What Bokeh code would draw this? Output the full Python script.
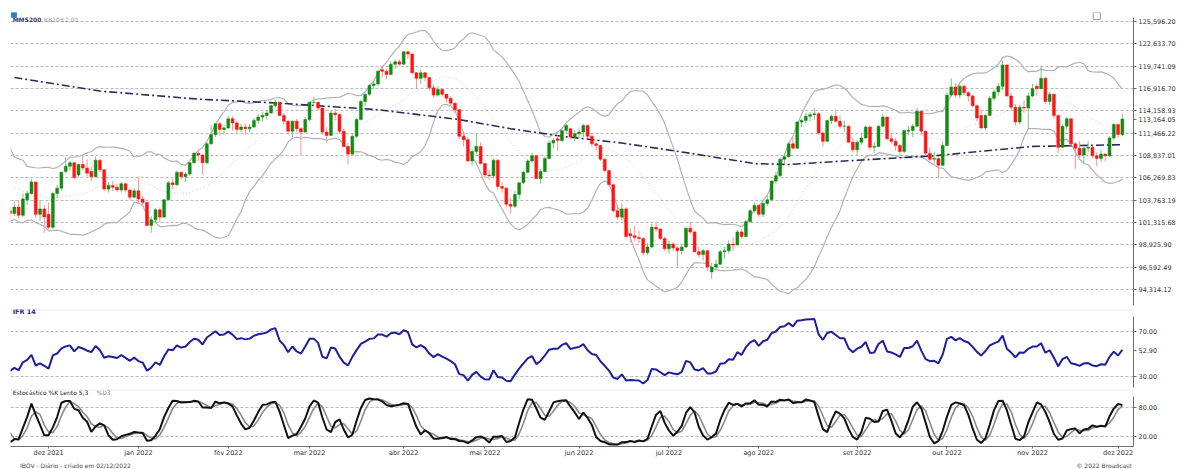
import numpy as np
import pandas as pd
from bokeh.plotting import figure
from bokeh.layouts import column
from bokeh.models import (Range1d, FixedTicker, NumeralTickFormatter, Label, Span,
                          ColumnDataSource)
from bokeh.core.properties import value
from bokeh.embed import file_html
from bokeh.resources import INLINE

# ---------------- data (IBOV daily, in thousands of points) ----------------
# first 32 rows are warm-up days (Oct 1 - Nov 18 2021) used only for the indicators
WARMUP = 32
opens = [110.9,112.9,110.4,110.5,110.6,112.8,112.8,112.2,113.5,114.6,114.6,114.4,110.8,110.8,107.7,106.3,108.7,106.4,105.7,104.8,103.5,105.6,105.6,103.4,104.8,104.8,105.5,106.0,107.6,106.3,102.9,102.6,
102.3,103.0,102.1,103.8,104.5,105.8,102.2,102.8,102.2,100.8,104.5,105.1,107.0,107.6,108.0,106.6,107.8,107.4,107.0,106.4,108.3,107.2,105.0,105.4,105.2,104.9,105.6,104.9,104.1,
104.8,103.9,103.5,101.0,101.6,102.7,101.9,103.8,105.7,105.5,106.9,106.4,106.7,108.0,109.1,108.9,108.0,110.2,111.3,112.6,111.9,
112.1,113.2,112.7,111.9,112.2,112.0,112.2,113.0,113.4,113.6,113.9,114.8,115.2,113.6,112.9,111.7,112.9,112.0,111.6,
113.1,115.2,115.2,114.5,111.6,111.2,113.9,113.7,111.7,109.9,109.0,111.1,113.1,115.3,116.2,117.3,117.5,119.3,119.1,118.7,120.0,120.3,
120.0,121.6,121.3,118.9,118.2,118.9,118.3,117.0,116.1,116.8,116.2,115.7,115.1,114.3,111.1,110.7,108.2,109.3,109.9,
107.9,106.6,106.5,108.3,105.3,105.1,103.3,103.1,104.4,105.7,106.9,108.2,108.8,106.2,107.0,108.5,110.3,110.8,110.6,111.8,112.0,111.0,
111.4,111.6,112.4,111.1,110.2,110.0,108.4,107.1,105.5,102.6,101.9,102.8,100.1,99.9,99.7,99.6,98.1,98.7,100.8,100.6,99.6,
98.5,99.0,98.6,98.3,98.7,100.7,100.3,98.2,97.9,98.3,96.1,96.6,96.9,98.2,98.3,99.0,98.9,100.3,99.8,101.4,102.6,
103.2,102.2,103.4,103.8,105.9,106.5,108.4,108.7,110.2,109.7,112.8,113.0,113.5,113.7,113.8,111.5,110.5,113.0,113.5,112.9,112.3,112.3,110.4,
109.5,110.4,110.9,112.2,109.8,109.9,112.3,113.4,110.8,110.5,110.0,109.3,111.7,111.8,112.3,114.1,111.7,109.1,108.4,108.5,107.7,
110.0,116.1,117.1,116.1,117.2,116.4,116.0,114.8,113.6,112.1,113.6,115.7,116.5,117.2,119.9,116.0,114.6,112.8,114.6,114.5,
116.0,117.2,116.9,118.2,115.3,116.2,113.6,109.8,112.3,113.2,110.2,109.7,108.9,109.7,109.8,108.8,108.5,109.0,108.8,110.9,
112.5,111.3]
highs = [113.3,112.9,111.0,110.6,113.0,113.5,113.0,113.6,114.9,115.0,114.8,114.5,111.6,110.9,108.4,108.9,109.0,106.9,106.3,105.2,105.8,106.4,105.7,105.1,105.5,105.9,106.4,107.8,107.9,106.4,103.3,103.0,
103.6,103.8,104.5,104.8,106.1,105.8,103.8,103.2,103.5,104.7,105.5,107.0,108.6,108.2,108.1,107.9,108.9,108.4,107.5,108.7,108.4,107.2,105.8,105.9,105.6,105.8,105.7,105.0,105.1,
106.4,104.3,103.6,102.0,102.9,103.0,103.9,105.9,106.2,107.1,107.0,106.9,108.1,109.3,109.5,109.0,110.4,112.4,112.7,112.8,112.4,
113.5,113.5,112.9,112.6,112.6,112.6,113.3,113.8,114.0,114.2,114.9,115.5,115.3,113.9,113.0,113.0,113.2,112.2,113.4,
115.3,115.9,115.3,114.6,112.2,114.2,114.4,113.8,112.0,110.3,111.5,113.3,115.5,116.3,117.5,118.0,119.3,119.8,119.3,120.4,120.6,120.6,
121.7,121.7,121.4,119.0,119.3,119.0,118.3,117.4,117.2,117.0,116.3,116.0,115.2,114.4,111.5,111.0,109.6,111.5,110.4,
108.0,107.2,108.5,108.4,105.8,105.2,104.0,104.8,105.8,107.1,108.4,109.2,108.9,107.3,108.7,110.6,110.9,111.2,111.9,112.6,112.1,111.8,
112.0,112.6,112.5,111.5,110.5,110.1,108.5,107.2,105.6,103.2,103.4,103.0,100.7,101.0,100.4,99.7,99.1,101.2,101.4,100.7,99.8,
99.4,99.2,98.8,99.0,100.8,101.4,100.4,98.7,98.5,98.4,97.0,97.4,98.4,98.7,99.4,99.7,100.5,100.6,101.6,102.8,103.5,
103.3,103.6,104.3,106.0,106.9,108.6,109.1,110.4,111.0,112.9,113.2,113.9,114.0,114.5,114.0,111.6,113.1,113.7,114.3,113.6,113.0,112.4,110.9,
110.6,111.4,112.4,112.4,110.4,112.4,113.8,113.4,111.4,110.9,110.2,111.9,112.3,112.6,114.5,114.1,111.8,109.8,109.3,108.6,110.5,
116.4,118.2,117.6,117.6,117.5,116.6,116.1,114.9,114.2,113.8,116.0,116.8,117.6,120.5,120.0,116.4,115.0,114.9,115.4,116.4,
117.5,117.5,119.8,118.4,116.5,116.3,113.7,112.5,113.4,113.3,110.4,110.5,109.9,110.5,110.0,109.2,109.5,109.1,111.1,112.7,
112.6,113.8]
lows = [110.3,110.1,108.9,108.7,110.5,111.9,111.7,111.8,113.4,113.9,113.8,110.5,109.4,107.0,103.6,106.3,106.3,105.2,104.4,103.4,103.5,104.9,103.1,103.4,104.3,104.2,104.6,105.9,106.0,102.7,102.1,101.6,
102.0,101.8,101.9,103.2,104.4,101.8,101.5,100.2,100.6,100.6,104.0,104.8,106.8,107.1,106.1,106.4,107.1,106.4,105.9,106.4,106.9,104.8,104.6,104.8,104.7,104.6,104.6,103.8,104.0,
103.3,103.1,100.9,100.2,101.3,101.4,101.8,103.7,105.0,105.3,106.1,105.8,106.5,107.9,108.2,106.6,107.8,110.1,111.0,111.2,111.3,
112.0,111.8,111.4,111.6,111.3,111.6,112.1,112.6,112.9,113.1,113.8,114.6,113.5,112.5,111.3,111.0,111.6,108.9,111.5,
112.9,114.8,114.2,111.3,110.3,111.2,113.0,111.4,109.8,107.8,108.9,110.9,113.0,114.7,116.0,116.8,117.2,118.3,118.1,118.6,119.4,119.8,
119.9,120.7,118.8,116.9,117.5,117.8,116.6,115.8,115.9,115.9,115.2,114.7,113.9,110.8,109.9,108.1,107.7,109.0,107.8,
106.2,106.0,106.2,104.9,104.6,103.0,102.3,102.9,103.9,105.6,106.8,108.0,106.1,105.6,106.9,108.4,109.7,109.4,110.4,111.4,110.8,110.5,
110.9,111.0,110.9,109.9,109.5,108.2,106.9,105.3,102.4,101.6,101.5,99.6,99.2,99.3,99.1,97.8,97.9,98.6,100.3,99.4,98.3,
98.0,98.3,96.6,97.9,98.6,100.0,98.1,97.6,97.3,96.2,95.4,96.3,96.8,97.5,98.0,98.3,98.9,99.6,99.7,101.3,102.4,
101.9,101.9,103.1,103.7,105.6,106.4,107.9,108.6,109.5,109.6,112.2,112.6,112.9,113.1,111.3,109.9,110.4,112.6,112.8,112.0,111.6,110.3,109.2,
108.9,110.1,110.8,109.5,109.1,109.9,112.2,110.6,110.2,109.4,108.8,109.1,111.2,111.0,112.2,111.2,108.8,108.2,107.9,106.3,107.6,
110.0,115.9,115.8,115.7,116.1,115.3,114.6,112.9,111.9,111.8,113.5,115.4,116.0,116.7,115.8,114.3,112.4,112.5,113.9,112.0,
115.8,116.0,116.8,115.0,114.9,113.2,109.1,109.7,111.9,109.9,107.3,108.6,107.9,109.2,108.5,107.6,108.1,108.2,108.7,110.6,
110.9,111.1]
closes = [112.9,110.4,110.5,110.6,112.8,112.8,112.2,113.5,114.6,114.6,114.4,110.8,110.8,107.7,106.3,108.7,106.4,105.7,104.8,103.5,105.6,105.6,103.4,104.8,104.8,105.5,106.0,107.6,106.3,102.9,102.6,102.3,
103.0,102.1,103.9,104.5,105.8,102.2,102.8,101.9,100.8,104.5,105.1,106.9,107.6,108.0,106.3,107.8,107.4,106.8,106.4,108.3,107.2,105.0,105.4,105.2,104.9,105.6,104.9,104.1,104.8,
103.9,103.5,101.0,101.6,102.7,101.9,103.8,105.7,105.5,106.9,106.4,106.7,108.0,109.1,108.9,108.0,110.2,111.3,112.6,111.9,112.1,
113.2,112.7,111.9,112.2,112.0,112.2,113.0,113.4,113.6,113.9,114.8,115.2,113.6,112.9,111.7,112.9,112.0,111.6,113.1,
115.2,115.2,114.5,111.6,111.2,113.9,113.7,111.7,109.9,109.0,111.1,113.1,115.3,116.2,117.3,117.5,119.1,119.1,118.7,120.0,120.3,120.0,
121.6,121.3,118.9,118.2,118.9,118.3,117.0,116.1,116.8,116.2,115.7,115.1,114.3,111.1,110.7,108.2,109.3,109.9,107.9,
106.6,106.5,108.3,105.3,105.1,103.3,103.1,104.4,105.7,106.9,108.2,108.8,106.2,107.0,108.5,110.3,110.6,110.6,111.8,112.4,111.0,111.4,
111.6,112.4,111.1,110.2,110.0,108.4,107.1,105.5,102.6,101.9,102.8,99.8,99.9,99.7,99.6,98.1,98.7,100.8,100.6,99.6,98.5,
99.0,98.6,98.3,98.7,100.7,100.3,98.2,97.9,98.3,96.6,96.6,96.9,98.2,98.3,99.0,98.9,100.3,99.8,101.4,102.6,103.2,
102.2,103.4,103.8,105.9,106.5,108.4,108.7,110.2,109.7,112.8,113.0,113.5,113.7,113.8,111.5,110.5,113.0,113.5,112.9,112.3,112.3,110.4,109.5,
110.4,110.9,112.2,109.8,109.9,112.3,113.4,110.8,110.5,110.0,109.3,111.8,111.8,112.3,114.1,111.7,109.1,108.4,108.5,107.7,110.0,
116.1,117.1,116.1,117.2,116.4,116.0,114.8,113.3,112.1,113.6,115.7,116.5,117.2,119.9,116.0,114.6,112.8,114.6,114.5,116.0,
116.9,116.9,118.2,115.3,116.2,113.6,109.8,112.3,113.2,110.2,109.7,108.9,109.7,109.8,108.8,108.5,109.0,108.8,110.9,112.5,
111.3,113.16405]

month_labels = ["dez 2021", "jan 2022", "fev 2022", "mar 2022", "abr 2022", "mai 2022", "jun 2022",
                "jul 2022", "ago 2022", "set 2022", "out 2022", "nov 2022", "dez 2022"]
month_first_day = [8, 29, 50, 69, 91, 110, 132, 153, 174, 197, 218, 238, 258]

price_ticks = [94314.12, 96592.49, 98925.90, 101315.68, 103763.19, 106269.83, 108837.01,
               111466.22, 114158.93, 116916.70, 119741.09, 122633.70, 125596.20]

# 200-day simple moving average (day index, thousands)
mms200_day = [0, 20, 43, 62, 85, 104, 116, 128, 142, 158, 173, 181, 194, 215, 238, 259]
mms200_val = [118.3, 116.6, 115.6, 115.1, 114.3, 113.1, 112.0, 111.1, 110.3, 109.1, 107.9, 107.8,
              108.2, 108.8, 109.9, 110.1]

last_price = 113164.05
last_rsi = 52.90
footer_left = "IBOV - Diário - criado em 02/12/2022"
footer_right = "© 2022 Broadcast"

# ---------------- derived series ----------------
o = np.array(opens) * 1000
h = np.array(highs) * 1000
l = np.array(lows) * 1000
c = np.array(closes) * 1000
n = len(c)
x = np.arange(n) - WARMUP

s = pd.Series(c)
bb_mid = s.rolling(20).mean()
bb_sd = s.rolling(20).std(ddof=0)
bb_up = bb_mid + 2 * bb_sd
bb_lo = bb_mid - 2 * bb_sd

d = np.diff(c)
gain = np.where(d > 0, d, 0.0)
loss = np.where(d < 0, -d, 0.0)
rsi = np.full(n, np.nan)
ag, al = gain[:14].mean(), loss[:14].mean()
rsi[14] = 100 - 100 / (1 + ag / al)
for k in range(14, len(d)):
    ag = (ag * 13 + gain[k]) / 14
    al = (al * 13 + loss[k]) / 14
    rsi[k + 1] = 100 - 100 / (1 + ag / al)

hh = pd.Series(h).rolling(5).max()
ll = pd.Series(l).rolling(5).min()
fast_k = 100 * (s - ll) / (hh - ll)
slow_k = fast_k.rolling(3).mean()
slow_d = slow_k.rolling(3).mean()

vis = x >= -1
up = c >= o
body_col = np.where(up, "#138a13", "#ff1414")
wick_col = np.where(up, "#7cc47c", "#ff9090")
src = ColumnDataSource(dict(x=x[vis], o=o[vis], h=h[vis], l=l[vis], c=c[vis],
                            top=np.maximum(o, c)[vis], bot=np.minimum(o, c)[vis],
                            bc=body_col[vis], wc=wick_col[vis]))

FONT = "DejaVu Sans"
W = 1178
XR = Range1d(-0.9, 261.6)
GRID = "#b9b9b9"
AX = "#6e6e6e"
LB, RB = 10, 37


def style(fig):
    fig.xgrid.visible = False
    fig.ygrid.grid_line_color = GRID
    fig.ygrid.grid_line_dash = "3 2"
    fig.outline_line_color = None
    fig.background_fill_color = "white"
    fig.border_fill_color = "white"
    ax = fig.yaxis[0]
    ax.axis_line_color = AX
    ax.major_tick_line_color = AX
    ax.minor_tick_line_color = None
    ax.major_tick_in = 0
    ax.major_tick_out = 3
    ax.major_label_standoff = 2
    ax.major_label_text_font = FONT
    ax.major_label_text_font_size = "6.5px"
    ax.major_label_text_color = "#333333"


# ---------------- main price panel ----------------
p = figure(width=W, height=308, x_range=XR, y_range=Range1d(92710, 126820),
           y_axis_type="log", y_axis_location="right", output_backend="svg",
           toolbar_location=None, min_border_left=LB, min_border_right=RB,
           min_border_top=12, min_border_bottom=3)
style(p)
p.xaxis.visible = False
# axis shows the grid levels plus the last-price marker
p.yaxis.ticker = FixedTicker(ticks=sorted(price_ticks + [last_price]), minor_ticks=[])
p.ygrid.ticker = FixedTicker(ticks=price_ticks, minor_ticks=[])
p.yaxis.formatter = NumeralTickFormatter(format="0,0.00")
p.yaxis.bounds = (92710, 126100)

p.line(x[vis], bb_up[vis], color="#b3b3b3", line_width=1.2)
p.line(x[vis], bb_lo[vis], color="#b3b3b3", line_width=1.2)
p.line(x[vis], bb_mid[vis], color="#cfcfcf", line_width=1, line_dash="1 2")
p.line(mms200_day, np.array(mms200_val) * 1000, color="#2c2c5c", line_width=1.6,
       line_dash="8 3 2 3")
p.segment(x0="x", y0="l", x1="x", y1="h", color="wc", line_width=1, source=src)
p.vbar(x="x", width=0.68, top="top", bottom="bot", fill_color="bc", line_color="bc",
       line_width=0.5, source=src)

p.scatter([-0.1], [126500], marker="square", size=5, fill_color="#2f7fc7", line_color="#2f7fc7")
p.scatter([253.0], [126350], marker="square", size=7, fill_color=None, line_color="#9a9a9a")

p.add_layout(Label(x=-0.4, y=125880, text="MMS200", text_font=FONT, text_font_size="6px",
                   text_font_style="bold", text_color="#3d3d6b", text_baseline="middle"))
p.add_layout(Label(x=6.9, y=125880, text="BB20±2,00", text_font=FONT, text_font_size="6px",
                   text_color="#9c9c9c", text_baseline="middle"))

# ---------------- RSI panel ----------------
r = figure(width=W, height=80, x_range=XR, y_range=Range1d(20.2, 89.6),
           y_axis_location="right", output_backend="svg", toolbar_location=None,
           min_border_left=LB, min_border_right=RB, min_border_top=1, min_border_bottom=1)
style(r)
r.xaxis.visible = False
r.yaxis.ticker = FixedTicker(ticks=[30, last_rsi, 70], minor_ticks=[])
r.ygrid.ticker = FixedTicker(ticks=[30, 70], minor_ticks=[])
r.yaxis.formatter = NumeralTickFormatter(format="0.00")
r.yaxis.bounds = (20.2, 83)
r.add_layout(Span(location=89.3, dimension="width", line_color="#e2e2e2", line_width=1))
r.line(x[vis], rsi[vis], color="#1f1f9a", line_width=2)
r.add_layout(Label(x=-0.4, y=87.0, text="IFR 14", text_font=FONT, text_font_size="6.5px",
                   text_font_style="bold", text_color="#2b2b8c", text_baseline="middle"))

# ---------------- Stochastic panel ----------------
st = figure(width=W, height=71, x_range=XR, y_range=Range1d(-0.8, 116.5),
            y_axis_location="right", output_backend="svg", toolbar_location=None,
            min_border_left=LB, min_border_right=RB, min_border_top=1, min_border_bottom=9)
style(st)
stt = FixedTicker(ticks=[20, 80], minor_ticks=[])
st.yaxis.ticker = stt
st.ygrid.ticker = stt
st.yaxis.formatter = NumeralTickFormatter(format="0.00")
st.yaxis.bounds = (-0.8, 102)
st.add_layout(Span(location=116.0, dimension="width", line_color="#e2e2e2", line_width=1))
st.line(x[vis], slow_d[vis], color="#8a8a8a", line_width=1.6)
st.line(x[vis], slow_k[vis], color="#111111", line_width=2)
xa = st.xaxis[0]
xa.ticker = FixedTicker(ticks=month_first_day, minor_ticks=[])
xa.major_label_overrides = {m: t for m, t in zip(month_first_day, month_labels)}
xa.axis_line_color = AX
xa.major_tick_line_color = AX
xa.minor_tick_line_color = None
xa.major_tick_in = 0
xa.major_tick_out = 2
xa.major_label_standoff = 0
xa.major_label_text_font = FONT
xa.major_label_text_font_size = "6.5px"
xa.major_label_text_line_height = 0.9
xa.major_label_text_color = "#333333"
st.add_layout(Label(x=-0.4, y=110, text="Estocástico %K Lento 5,3", text_font=FONT,
                    text_font_size="6px", text_color="#222222", text_baseline="middle"))
st.add_layout(Label(x=19.2, y=110, text="%D3", text_font=FONT, text_font_size="6px",
                    text_color="#888888", text_baseline="middle"))

# ---------------- footer strip ----------------
ft = figure(width=W, height=10, x_range=Range1d(0, W), y_range=Range1d(0, 10),
            output_backend="svg", toolbar_location=None, min_border=0)
ft.axis.visible = False
ft.grid.visible = False
ft.outline_line_color = None
ft.text(x=[10], y=[6], text=[footer_left], text_font=value(FONT), text_font_size="6px",
        text_color="#444444", text_baseline="middle", text_align="left")
ft.text(x=[W - 2], y=[6], text=[footer_right], text_font=value(FONT), text_font_size="6px",
        text_color="#444444", text_baseline="middle", text_align="right")

layout = column(p, r, st, ft, spacing=0)
open("out.html", "w").write(file_html(layout, INLINE))
